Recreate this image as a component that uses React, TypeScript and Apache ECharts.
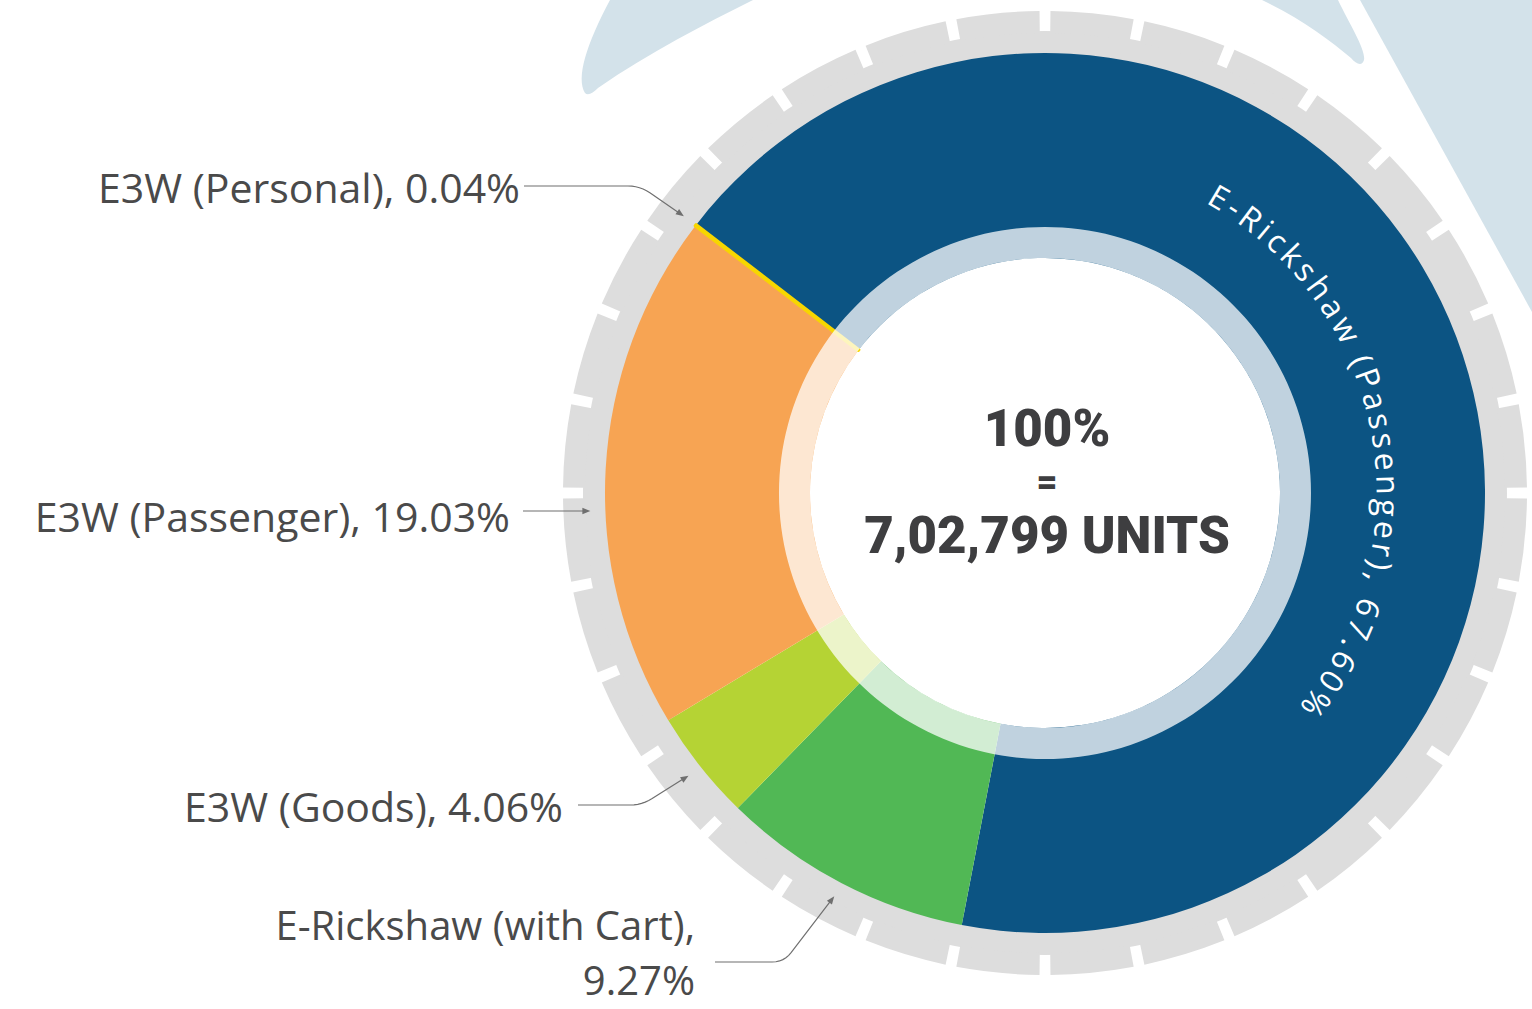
import React, { useEffect, useRef } from 'react';
import * as echarts from 'echarts';

// ---- data ----
const categories = [
  'E3W (Personal)',
  'E-Rickshaw (Passenger)',
  'E-Rickshaw (with Cart)',
  'E3W (Goods)',
  'E3W (Passenger)',
];
const shares = [0.04, 67.6, 9.27, 4.06, 19.03];
const sliceColors = ['#f7d600', '#0c5483', '#51b855', '#b5d334', '#f7a453'];
const wrapLabel = [false, false, true, false, false];
const centerLines = ['100%', '=', '7,02,799 UNITS'];
const arcLabelIndex = 1;
const highlightIndex = 0;

// ---- layout ----
const CX = 1045;
const CY = 493;
const R_IN = 235;
const R_BAND = 266;
const R_OUT = 440;
const START = 142.6;
const TIP_R = 455;
const TEETH = 32;
const NOTCH_DEG = 1.3;
const CENTER_LINE_Y = [428, 482, 535];
const CENTER_FONT = [51, 36, 51];

const placements: Record<number, { right: number; y: number; lineY: number; bendX: number | null; lineStart: number; size: number; lh: number }> = {
  0: { right: 520, y: 187, lineY: 186, bendX: 640, lineStart: 524, size: 41, lh: 48 },
  4: { right: 510, y: 516, lineY: 511, bendX: null, lineStart: 523, size: 41, lh: 48 },
  3: { right: 563, y: 806, lineY: 805, bendX: 642, lineStart: 578, size: 41, lh: 48 },
  2: { right: 695, y: 952, lineY: 962, bendX: 784, lineStart: 715, size: 40, lh: 55 },
};

const total = shares.reduce((a, b) => a + b, 0);
function midAngle(i: number) {
  let before = 0;
  for (let k = 0; k < i; k++) before += shares[k];
  return START - (360 * (before + shares[i] / 2)) / total;
}
function guide(i: number) {
  const p = placements[i];
  let tip: number[];
  if (p.bendX === null) {
    const dy = p.lineY - CY;
    tip = [CX - Math.sqrt(TIP_R * TIP_R - dy * dy), p.lineY];
    return { tip, from: [p.lineStart, p.lineY], points: [[p.lineStart, p.lineY], tip] };
  }
  const a = (midAngle(i) * Math.PI) / 180;
  tip = [CX + TIP_R * Math.cos(a), CY - TIP_R * Math.sin(a)];
  const bend = [p.bendX, p.lineY];
  const rr = 12;
  const dx = tip[0] - bend[0], dy = tip[1] - bend[1];
  const len = Math.hypot(dx, dy);
  const c0 = [bend[0] - rr, bend[1]];
  const c1 = [bend[0] + (dx / len) * rr, bend[1] + (dy / len) * rr];
  const pts: number[][] = [[p.lineStart, p.lineY], c0];
  for (let t = 1; t <= 6; t++) {
    const u = t / 6;
    pts.push([
      (1 - u) * (1 - u) * c0[0] + 2 * (1 - u) * u * bend[0] + u * u * c1[0],
      (1 - u) * (1 - u) * c0[1] + 2 * (1 - u) * u * bend[1] + u * u * c1[1],
    ]);
  }
  pts.push(tip);
  return { tip, from: bend, points: pts };
}

function guideElements() {
  const out: any[] = [];
  Object.keys(placements).forEach((k) => {
    const g = guide(Number(k));
    const { tip, from } = g;
    const dx = tip[0] - from[0];
    const dy = tip[1] - from[1];
    const len = Math.hypot(dx, dy);
    const ux = dx / len, uy = dy / len;
    const nx = -uy, ny = ux;
    const L = 8, W = 3.2;
    out.push({
      type: 'polyline',
      z: 119,
      silent: true,
      shape: { points: g.points.map((q, idx) => (idx === g.points.length - 1 ? [q[0] - ux * 4, q[1] - uy * 4] : q)) },
      style: { stroke: '#6f6f6f', lineWidth: 1.2, fill: null },
    });
    out.push({
      type: 'polygon',
      z: 120,
      silent: true,
      shape: {
        points: [
          tip,
          [tip[0] - ux * L + nx * W, tip[1] - uy * L + ny * W],
          [tip[0] - ux * L - nx * W, tip[1] - uy * L - ny * W],
        ],
      },
      style: { fill: '#6f6f6f' },
    });
  });
  return out;
}

function arcText() {
  const i = arcLabelIndex;
  const text = `${categories[i]}, ${shares[i].toFixed(2)}%`;
  const font = '400 32px "Open Sans"';
  const ctx = document.createElement('canvas').getContext('2d')!;
  ctx.font = font;
  const chars = Array.from(text);
  const widths = chars.map((c) => ctx.measureText(c).width);
  const r = 344;
  const a0 = 61;
  const a1 = -40;
  const arcLen = (r * (a0 - a1) * Math.PI) / 180;
  const sumW = widths.reduce((a, b) => a + b, 0);
  const gap = (arcLen - sumW) / (chars.length - 1);
  const els: any[] = [];
  let s = 0;
  chars.forEach((c, k) => {
    const mid = s + widths[k] / 2;
    const th = (a0 * Math.PI) / 180 - mid / r;
    els.push({
      type: 'text',
      z: 120,
      silent: true,
      x: CX + r * Math.cos(th),
      y: CY - r * Math.sin(th),
      rotation: th - Math.PI / 2,
      style: {
        text: c,
        font,
        fill: '#ffffff',
        align: 'center',
        verticalAlign: 'middle',
        textAlign: 'center',
        textVerticalAlign: 'middle',
      },
    });
    s += widths[k] + gap;
  });
  return els;
}

const blobLeft =
  'M585,93 C576,78 586,45 610,0 L753,0 C705,24 650,52 598,88 C593,93 588,96 585,93 Z';
const blobMid =
  'M1262,0 L1338,0 C1350,25 1366,50 1364,60 C1362,67 1356,64 1351,58 C1330,40 1300,18 1262,0 Z';

export default function App() {
  const ref = useRef<HTMLDivElement>(null);
  useEffect(() => {
    if (!ref.current) return;
    echarts.graphic.registerShape('blobLeft', echarts.graphic.extendPath(blobLeft, {}));
    echarts.graphic.registerShape('blobMid', echarts.graphic.extendPath(blobMid, {}));
    const chart = echarts.init(ref.current, null, { renderer: 'svg' });

    const teeth: any[] = [];
    for (let k = 0; k < TEETH; k++) {
      teeth.push({ value: NOTCH_DEG, itemStyle: { color: 'rgba(0,0,0,0)' } });
      teeth.push({ value: 360 / TEETH - NOTCH_DEG, itemStyle: { color: '#dddddd' } });
    }

    const data = categories.map((name, i) => {
      const item: any = {
        name,
        value: shares[i],
        itemStyle: { color: sliceColors[i] },
      };
      const p = placements[i];
      if (!p) {
        item.label = { show: false };
      } else {
        item.label = { fontSize: p.size, lineHeight: p.lh };
      }
      return item;
    });

    // overlay: same slices, only the tiny one outlined so it stays visible
    const outlineData = categories.map((name, i) => ({
      name,
      value: shares[i],
      itemStyle:
        i === highlightIndex
          ? { color: sliceColors[i], borderColor: sliceColors[i], borderWidth: 3.5 }
          : { color: 'rgba(0,0,0,0)' },
    }));

    const centerTexts = centerLines.map((t, k) => ({
      type: 'text',
      z: 120,
      silent: true,
      x: CX + 2,
      y: CENTER_LINE_Y[k],
      style: {
        text: t,
        font: `900 ${CENTER_FONT[k]}px Roboto`,
        fill: '#3e3e40',
        align: 'center',
        verticalAlign: 'middle',
        textAlign: 'center',
        textVerticalAlign: 'middle',
      },
    }));

    const option: any = {
      animation: false,
      backgroundColor: '#ffffff',
      graphic: [
        { type: 'blobLeft', z: 0, silent: true, style: { fill: '#d3e2ea' } },
        { type: 'blobMid', z: 0, silent: true, style: { fill: '#d3e2ea' } },
        {
          type: 'polygon',
          z: 0,
          silent: true,
          shape: { points: [[1360, 0], [1532, 0], [1532, 312]] },
          style: { fill: '#d3e2ea' },
        },
        ...centerTexts,
        ...guideElements(),
        ...arcText(),
      ],
      series: [
        {
          type: 'pie',
          silent: true,
          center: [CX, CY],
          radius: [430, 462],
          label: { show: false },
          labelLine: { show: false },
          emphasis: { disabled: true },
          data: [{ value: 1, itemStyle: { color: '#dddddd' } }],
        },
        {
          type: 'pie',
          silent: true,
          center: [CX, CY],
          radius: [460, 482],
          startAngle: 90 + NOTCH_DEG / 2,
          label: { show: false },
          labelLine: { show: false },
          emphasis: { disabled: true },
          data: teeth,
        },
        {
          type: 'pie',
          center: [CX, CY],
          radius: [R_IN, R_OUT],
          startAngle: START,
          avoidLabelOverlap: false,
          emphasis: { disabled: true },
          label: {
            show: true,
            position: 'outside',
            fontFamily: '"Open Sans"',
            fontSize: 41,
            fontWeight: 400,
            color: '#4a4a4a',
            lineHeight: 48,
            align: 'right',
            formatter: (p: any) =>
              `${p.name},${wrapLabel[p.dataIndex] ? '\n' : ' '}${Number(p.value).toFixed(2)}%`,
          },
          labelLine: { show: false },
          labelLayout: (params: any) => {
            const p = placements[params.dataIndex];
            if (!p) return {};
            return { x: p.right, y: p.y, align: 'right', verticalAlign: 'middle' };
          },
          data,
        },
        {
          type: 'pie',
          silent: true,
          center: [CX, CY],
          radius: [R_IN, R_OUT],
          startAngle: START,
          label: { show: false },
          labelLine: { show: false },
          emphasis: { disabled: true },
          data: outlineData,
        },
        {
          type: 'pie',
          silent: true,
          center: [CX, CY],
          radius: [R_IN, R_BAND],
          label: { show: false },
          labelLine: { show: false },
          emphasis: { disabled: true },
          data: [{ value: 1, itemStyle: { color: 'rgba(255,255,255,0.74)' } }],
        },
      ],
    };
    chart.setOption(option);
    return () => chart.dispose();
  }, []);
  return (
    <div
      ref={ref}
      style={{ position: 'fixed', left: 0, top: 0, width: 1532, height: 1009 }}
    />
  );
}
